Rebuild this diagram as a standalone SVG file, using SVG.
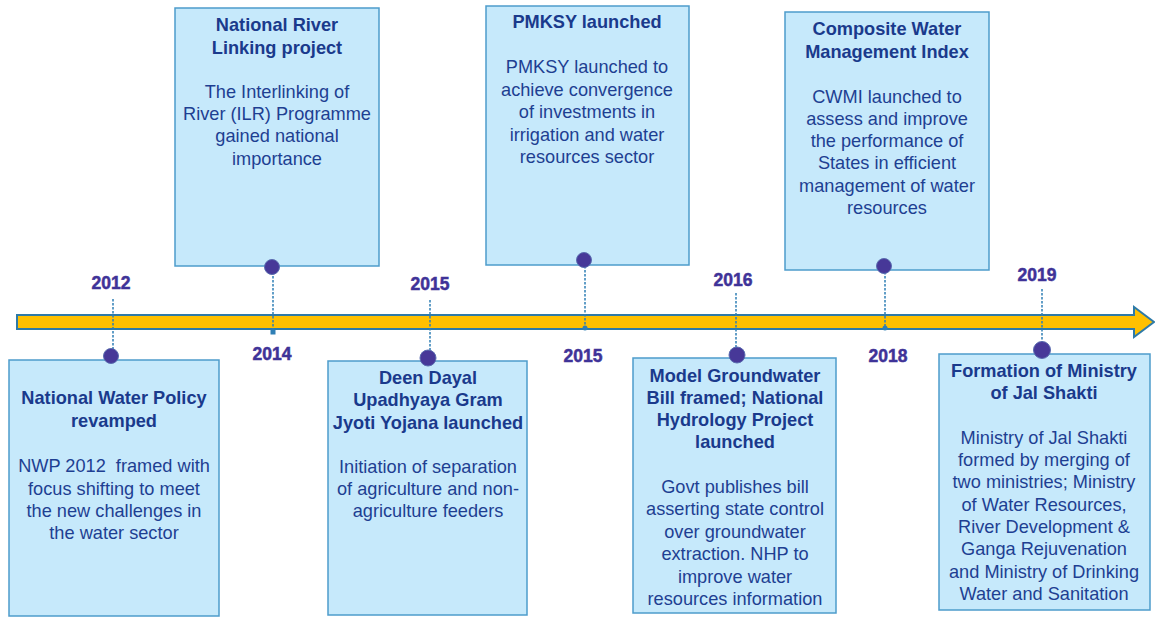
<svg xmlns="http://www.w3.org/2000/svg" width="1155" height="618" viewBox="0 0 1155 618">
  <style>
    .box { fill: #c6e9fb; stroke: #4d9ccb; stroke-width: 1.5; }
    .title { font-family: "Liberation Sans", Arial, sans-serif; font-size: 18.2px; font-weight: bold; fill: #1a3a8c; text-anchor: middle; }
    .body { font-family: "Liberation Sans", Arial, sans-serif; font-size: 18.2px; fill: #1e3f92; text-anchor: middle; white-space: pre; }
    .year { font-family: "Liberation Sans", Arial, sans-serif; font-size: 17.5px; font-weight: bold; fill: #3f3398; text-anchor: middle; stroke: #3f3398; stroke-width: 0.5; }
    .stem { stroke: #2f7fb5; stroke-width: 1.5; stroke-dasharray: 2.5 1.5; fill: none; }
    .dot { fill: #473898; stroke: #5a6cb0; stroke-width: 1; }
    .tick { fill: #2f7fb5; }
  </style>

  <!-- timeline arrow -->
  <g id="timeline">
    <path d="M17,315 H1134 V307 L1154,322 L1134,337 V329 H17 Z" fill="#ffc000" stroke="#2e7aa8" stroke-width="2"/>
  </g>

  <!-- connectors: stems from the bar to each event -->
  <g id="connectors">
    <line class="stem" x1="113" y1="299" x2="113" y2="350"/>
    <line class="stem" x1="273" y1="272" x2="273" y2="331"/>
    <rect class="tick" x="270.5" y="329.5" width="5" height="5"/>
    <line class="stem" x1="430" y1="300" x2="430" y2="352"/>
    <line class="stem" x1="585" y1="266" x2="585" y2="327"/>
    <circle class="tick" cx="585" cy="328" r="2.5"/>
    <line class="stem" x1="736" y1="293" x2="736" y2="349"/>
    <line class="stem" x1="885" y1="272" x2="885" y2="327"/>
    <circle class="tick" cx="885" cy="328" r="2.5"/>
    <line class="stem" x1="1042" y1="289" x2="1042" y2="344"/>
  </g>

  <!-- year labels -->
  <g id="years">
    <text class="year" x="111" y="289">2012</text>
    <text class="year" x="272" y="360">2014</text>
    <text class="year" x="430" y="290">2015</text>
    <text class="year" x="583" y="362">2015</text>
    <text class="year" x="733" y="286">2016</text>
    <text class="year" x="888" y="362">2018</text>
    <text class="year" x="1037" y="281">2019</text>
  </g>

  <g id="nwp">
    <rect class="box" x="9" y="360" width="210" height="256"/>
    <circle class="dot" cx="111" cy="356" r="7.5"/>
    <text class="title" x="114" y="404">National Water Policy</text>
    <text class="title" x="114" y="427">revamped</text>
    <text class="body" x="114" y="472">NWP 2012  framed with</text>
    <text class="body" x="114" y="495">focus shifting to meet</text>
    <text class="body" x="114" y="517">the new challenges in</text>
    <text class="body" x="114" y="539">the water sector</text>
  </g>

  <g id="nrl">
    <rect class="box" x="175" y="8" width="204" height="258"/>
    <circle class="dot" cx="272" cy="267" r="7.5"/>
    <text class="title" x="277" y="31">National River</text>
    <text class="title" x="277" y="54">Linking project</text>
    <text class="body" x="277" y="98">The Interlinking of</text>
    <text class="body" x="277" y="120">River (ILR) Programme</text>
    <text class="body" x="277" y="142">gained national</text>
    <text class="body" x="277" y="165">importance</text>
  </g>

  <g id="ddugjy">
    <rect class="box" x="328" y="361" width="199" height="254"/>
    <circle class="dot" cx="428" cy="358" r="8"/>
    <text class="title" x="428" y="384">Deen Dayal</text>
    <text class="title" x="428" y="406">Upadhyaya Gram</text>
    <text class="title" x="428" y="429">Jyoti Yojana launched</text>
    <text class="body" x="428" y="473">Initiation of separation</text>
    <text class="body" x="428" y="495">of agriculture and non-</text>
    <text class="body" x="428" y="517">agriculture feeders</text>
  </g>

  <g id="pmksy">
    <rect class="box" x="486" y="6" width="203" height="259"/>
    <circle class="dot" cx="584" cy="260" r="7.5"/>
    <text class="title" x="587" y="28">PMKSY launched</text>
    <text class="body" x="587" y="73">PMKSY launched to</text>
    <text class="body" x="587" y="96">achieve convergence</text>
    <text class="body" x="587" y="118">of investments in</text>
    <text class="body" x="587" y="141">irrigation and water</text>
    <text class="body" x="587" y="163">resources sector</text>
  </g>

  <g id="groundwater">
    <rect class="box" x="633" y="358" width="203" height="255"/>
    <circle class="dot" cx="737" cy="355" r="8"/>
    <text class="title" x="735" y="382">Model Groundwater</text>
    <text class="title" x="735" y="404">Bill framed; National</text>
    <text class="title" x="735" y="426">Hydrology Project</text>
    <text class="title" x="735" y="448">launched</text>
    <text class="body" x="735" y="493">Govt publishes bill</text>
    <text class="body" x="735" y="515">asserting state control</text>
    <text class="body" x="735" y="538">over groundwater</text>
    <text class="body" x="735" y="560">extraction. NHP to</text>
    <text class="body" x="735" y="583">improve water</text>
    <text class="body" x="735" y="605">resources information</text>
  </g>

  <g id="cwmi">
    <rect class="box" x="785" y="12" width="204" height="258"/>
    <circle class="dot" cx="884" cy="266" r="7.5"/>
    <text class="title" x="887" y="35">Composite Water</text>
    <text class="title" x="887" y="58">Management Index</text>
    <text class="body" x="887" y="103">CWMI launched to</text>
    <text class="body" x="887" y="125">assess and improve</text>
    <text class="body" x="887" y="147">the performance of</text>
    <text class="body" x="887" y="169">States in efficient</text>
    <text class="body" x="887" y="192">management of water</text>
    <text class="body" x="887" y="214">resources</text>
  </g>

  <g id="jalshakti">
    <rect class="box" x="939" y="354" width="211" height="256"/>
    <circle class="dot" cx="1042" cy="350" r="8.5"/>
    <text class="title" x="1044" y="377">Formation of Ministry</text>
    <text class="title" x="1044" y="399">of Jal Shakti</text>
    <text class="body" x="1044" y="444">Ministry of Jal Shakti</text>
    <text class="body" x="1044" y="466">formed by merging of</text>
    <text class="body" x="1044" y="488">two ministries; Ministry</text>
    <text class="body" x="1044" y="511">of Water Resources,</text>
    <text class="body" x="1044" y="533">River Development &amp;</text>
    <text class="body" x="1044" y="555">Ganga Rejuvenation</text>
    <text class="body" x="1044" y="578">and Ministry of Drinking</text>
    <text class="body" x="1044" y="600">Water and Sanitation</text>
  </g>
</svg>
